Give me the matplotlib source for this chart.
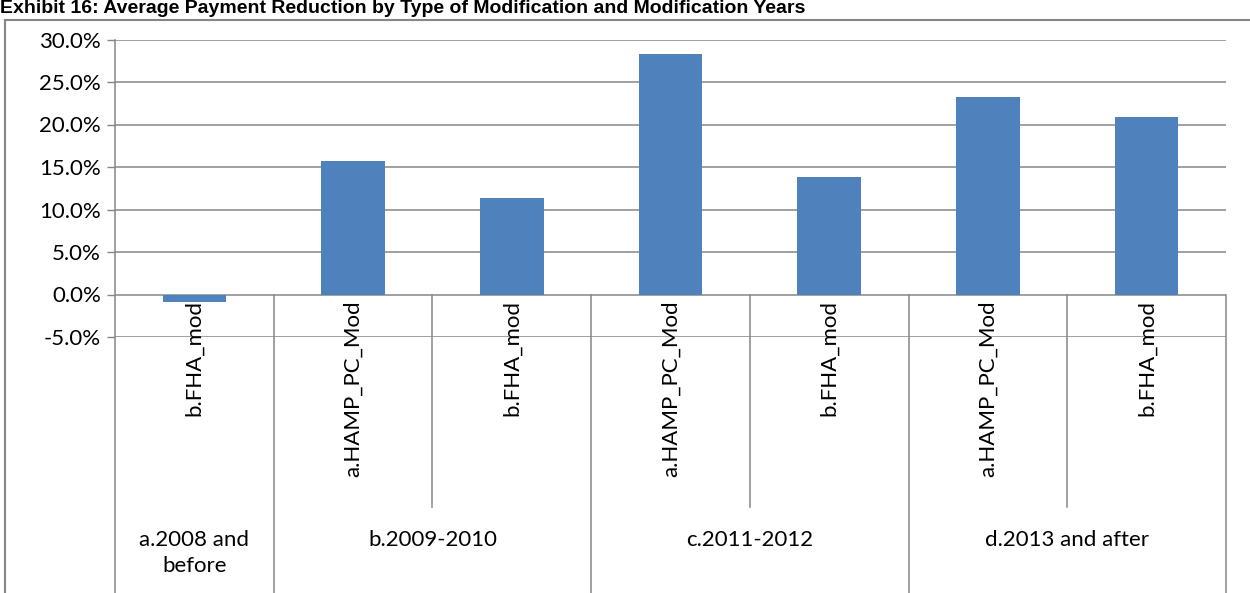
import matplotlib.pyplot as plt
import numpy as np
from matplotlib.lines import Line2D

title = "Exhibit 16: Average Payment Reduction by Type of Modification and Modification Years"

mod_types = ["b.FHA_mod", "a.HAMP_PC_Mod", "b.FHA_mod", "a.HAMP_PC_Mod",
             "b.FHA_mod", "a.HAMP_PC_Mod", "b.FHA_mod"]
year_groups = ["a.2008 and\nbefore", "b.2009-2010", "c.2011-2012", "d.2013 and after"]
group_sizes = [1, 2, 2, 2]
reduction = [-0.9, 15.7, 11.3, 28.3, 13.8, 23.2, 20.9]
yticks = [-5, 0, 5, 10, 15, 20, 25, 30]

grid_c = "#868686"
bar_c = "#4F81BD"
font = "Lato"

fig = plt.figure(figsize=(12.5, 5.93), dpi=100)
ax = fig.add_axes([115 / 1250, 1 - 337 / 593, 1111 / 1250, 297.5 / 593])

x = np.arange(len(reduction))
ax.bar(x, reduction, width=0.4, color=bar_c, zorder=3)

ax.set_xlim(-0.5, len(reduction) - 0.5)
ax.set_ylim(-5, 30)
ax.set_yticks(yticks)
ax.set_yticklabels([f"{v:.1f}%" for v in yticks], fontsize=16, family=font)
ax.tick_params(axis="y", length=6, width=1, color=grid_c, pad=4)
ax.set_xticks([])
for s in ax.spines.values():
    s.set_visible(False)
for v in yticks:
    ax.axhline(v, color=grid_c, lw=1.1, zorder=1)

tr = ax.get_xaxis_transform()
zero_y = 5 / 35
bottom_y = -(593 - 337) / 297.5
short_y = -(507 - 337) / 297.5

# category separators
edges = np.concatenate([[0], np.cumsum(group_sizes)]) - 0.5
ax.plot([-0.5, -0.5], [1, bottom_y], transform=tr, color=grid_c, lw=1.1, clip_on=False)
for e in edges[1:]:
    ax.plot([e, e], [zero_y, bottom_y], transform=tr, color=grid_c, lw=1.1, clip_on=False)
for i in range(len(reduction) - 1):
    e = i + 0.5
    if e not in edges:
        ax.plot([e, e], [zero_y, short_y], transform=tr, color=grid_c, lw=1.1, clip_on=False)

# labels
for xi, lab in zip(x, mod_types):
    ax.text(xi, (337 - 300) / 297.5, lab, transform=tr, rotation=90, ha="center",
            va="top", fontsize=16, family=font)
for g, lab in enumerate(year_groups):
    cx = (edges[g] + edges[g + 1]) / 2
    ax.text(cx, -(530 - 337) / 297.5, lab, transform=tr, ha="center", va="top",
            fontsize=16, family=font, linespacing=1.4)

# chart frame
fy = 1 - 20 / 593
fig.add_artist(Line2D([5 / 1250, 5 / 1250], [0, fy], color=grid_c, lw=1.5))
fig.add_artist(Line2D([5 / 1250, 1], [fy, fy], color=grid_c, lw=1.5))

fig.text(0.0, 1 - 13 / 593, title, ha="left", va="baseline", fontsize=14,
         fontweight="bold", family="Liberation Sans")

fig.savefig("out.png", dpi=100)
